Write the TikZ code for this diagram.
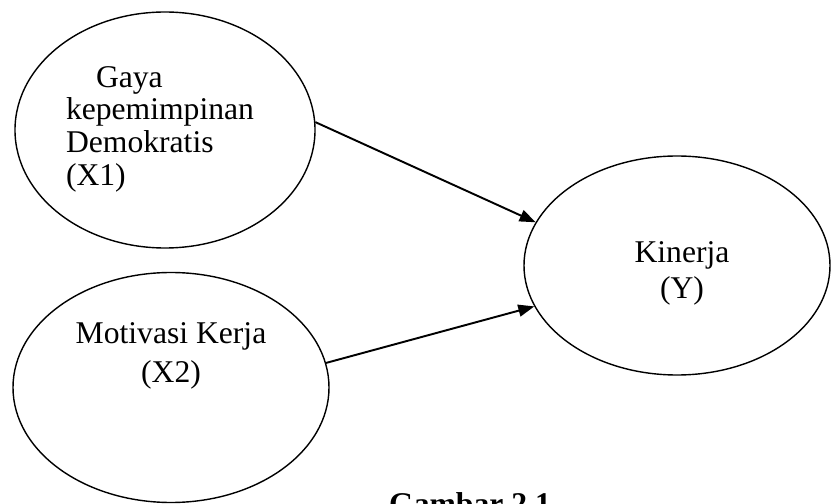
\documentclass[tikz,border=0pt]{standalone}
\usepackage{fontspec}
\setmainfont{Liberation Serif}
\usetikzlibrary{shapes.geometric,arrows.meta}
\begin{document}
\begin{tikzpicture}
	\tikzset{
		var node/.style={ellipse, draw, line width=0.8pt, inner sep=0pt},
		var text/.style={font=\fontsize{18}{20}\selectfont, inner sep=0pt},
		link/.style={-{Triangle[length=3.2mm, width=2.4mm]}, line width=1.1pt}
	}
	\useasboundingbox (0,0) rectangle (16.62,-10.08);
	% Variables
	\node (x1) at (3.30,-2.60) [var node, minimum width=6cm, minimum height=4.72cm] {};
	\node (x2) at (3.42,-7.75) [var node, minimum width=6.32cm, minimum height=4.6cm] {};
	\node (y) at (13.54,-5.31) [var node, minimum width=6.12cm, minimum height=4.38cm] {};
	
	\node (x1 text) at (3.20,-2.58) [var text, align=left] {\hspace*{0.6cm}Gaya\\[-1.4pt]kepemimpinan\\[-1.4pt]Demokratis\\[-1.4pt](X1)};
	\node (x2 text) at (3.42,-7.11) [var text, align=center] {Motivasi Kerja\\[2.3pt](X2)};
	\node (y text) at (13.64,-5.47) [var text, align=center] {Kinerja\\[0.5pt](Y)};
	
	% Influences
	\draw[link] (x1.3) to (y.163);
	\draw[link] (x2.9) to (y.196);
	
	% Caption (cut off at the lower edge)
	\node (caption) at (9.40,-10.29) [anchor=base, inner sep=0pt, font=\fontsize{18}{20}\selectfont\bfseries] {Gambar 2.1};
\end{tikzpicture}
\end{document}
